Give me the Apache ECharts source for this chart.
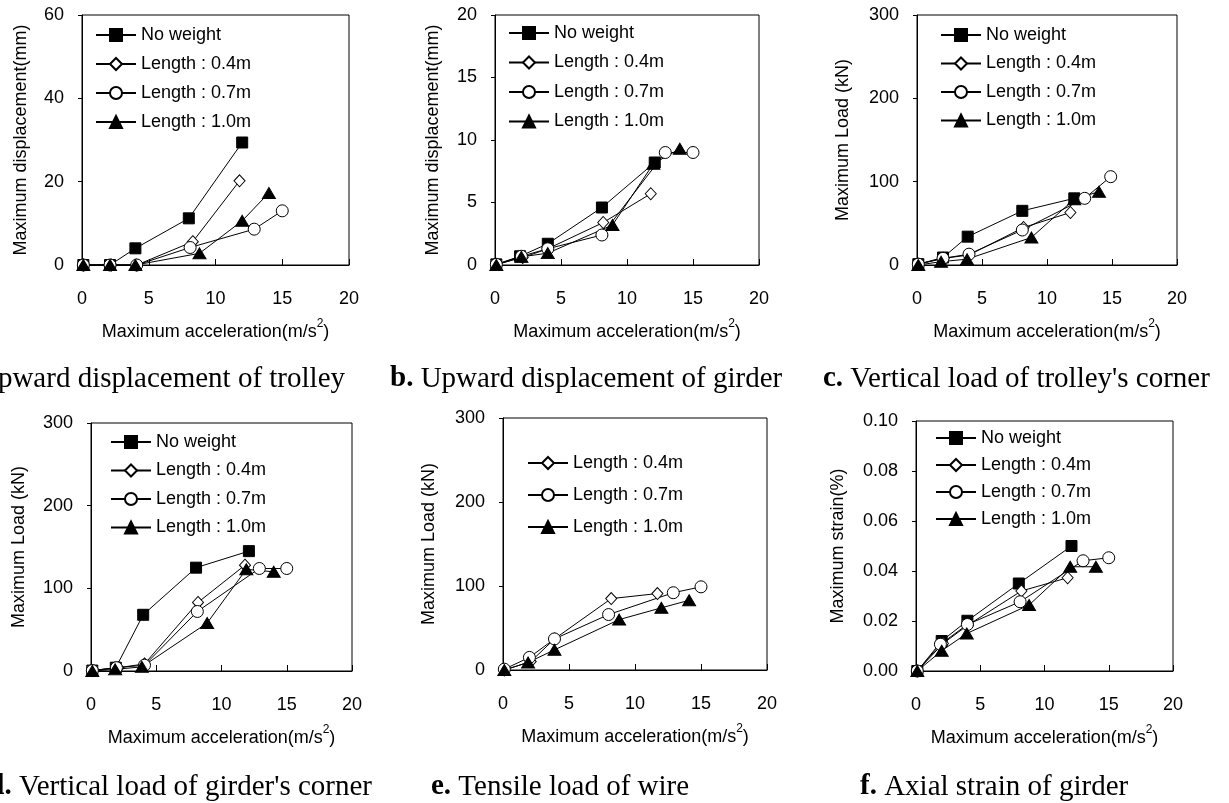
<!DOCTYPE html>
<html>
<head>
<meta charset="utf-8">
<style>
  html, body { margin: 0; padding: 0; background: #fff; }
  #chart { width: 1229px; height: 803px; }
</style>
<script src="https://cdn.jsdelivr.net/npm/echarts@6/dist/echarts.min.js"></script>
</head>
<body>
<div id="chart"></div>
<script>
// legend names, one per test case
const seriesNames = ['No weight', 'Length : 0.4m', 'Length : 0.7m', 'Length : 1.0m'];
const xTicks = [0, 5, 10, 15, 20];

// a. upward displacement of trolley (mm) vs max acceleration (m/s2)
const aNoWeight = [[0.1, 0], [2.1, 0], [4.0, 4.0], [8.0, 11.2], [12.0, 29.4]];
const aLen04 = [[0.1, 0], [2.2, 0], [4.1, 0], [8.3, 5.6], [11.8, 20.2]];
const aLen07 = [[0.1, 0], [2.1, 0], [4.1, 0], [8.1, 4.2], [12.9, 8.6], [15.0, 13.0]];
const aLen10 = [[0.1, 0], [2.1, 0], [4.0, 0], [8.8, 2.8], [12.0, 10.6], [14.0, 17.3]];

// b. upward displacement of girder (mm)
const bNoWeight = [[0.1, 0.05], [1.9, 0.7], [4.0, 1.7], [8.1, 4.6], [12.1, 8.2]];
const bLen04 = [[0.1, 0.05], [2.1, 0.6], [4.0, 1.3], [8.2, 3.4], [11.8, 5.7]];
const bLen07 = [[0.1, 0.05], [2.0, 0.7], [4.0, 1.3], [8.1, 2.4], [12.9, 9.0], [15.0, 9.0]];
const bLen10 = [[0.1, 0], [2.0, 0.65], [4.0, 0.95], [8.9, 3.2], [12.0, 8.1], [14.0, 9.3]];

// c. vertical load of trolley's corner (kN)
const cNoWeight = [[0.1, 1], [2.0, 9], [3.9, 34], [8.1, 65], [12.1, 80]];
const cLen04 = [[0.1, 1], [2.05, 8], [4.0, 12], [8.2, 45], [11.8, 63]];
const cLen07 = [[0.1, 1], [2.0, 8], [4.0, 13], [8.1, 42], [12.9, 80], [14.9, 106]];
const cLen10 = [[0.1, 0], [1.85, 4], [3.85, 7], [8.8, 33], [12.1, 79], [14.0, 88]];

// d. vertical load of girder's corner (kN)
const dNoWeight = [[0.1, 0.5], [1.9, 4], [4.0, 68], [8.05, 125], [12.1, 145]];
const dLen04 = [[0.1, 0.5], [2.1, 4], [4.1, 8.5], [8.2, 83], [11.8, 128]];
const dLen07 = [[0.1, 0.5], [1.95, 4], [4.1, 7], [8.15, 72], [12.9, 124], [15.0, 124]];
const dLen10 = [[0.1, 0], [1.85, 2], [3.9, 5], [8.9, 58], [11.9, 123], [14.0, 120]];

// e. tensile load of wire (kN)
const eLen04 = [[0.1, 0], [2.1, 10], [3.9, 37], [8.2, 85], [11.7, 91]];
const eLen07 = [[0.1, 1], [2.0, 15], [3.9, 37], [8.0, 66], [12.9, 92], [15.0, 99]];
const eLen10 = [[0.1, 0], [1.9, 9], [3.9, 24], [8.8, 60], [12.0, 74], [14.1, 83]];

// f. axial strain of girder (%)
const fNoWeight = [[0.1, 0], [2.0, 0.012], [4.0, 0.0201], [8.0, 0.035], [12.1, 0.050]];
const fLen04 = [[0.1, 0], [2.1, 0.011], [4.05, 0.0184], [8.2, 0.032], [11.8, 0.0373]];
const fLen07 = [[0.1, 0], [1.9, 0.0107], [4.0, 0.0186], [8.1, 0.0277], [13.0, 0.0441], [15.0, 0.0453]];
const fLen10 = [[0.1, 0], [2.0, 0.0081], [3.95, 0.015], [8.8, 0.0264], [12.0, 0.0417], [14.0, 0.0417]];

const SANS = '"Liberation Sans", Arial, sans-serif';
const SERIF = '"Liberation Serif", "Times New Roman", serif';

const markers = [
  { symbol: 'rect', size: 11, fill: '#000' },
  { symbol: 'diamond', size: [11, 12], fill: '#fff' },
  { symbol: 'circle', size: 12, fill: '#fff' },
  { symbol: 'triangle', size: [13, 11], fill: '#000' }
];

const panels = [
  { grid: [82, 15, 267, 250], yMax: 60, yStep: 20, yName: 'Maximum displacement(mm)', yGap: 52,
    legend: [95, 26, 11], series: [aNoWeight, aLen04, aLen07, aLen10] },
  { grid: [495, 15, 264, 250], yMax: 20, yStep: 5, yName: 'Maximum displacement(mm)', yGap: 53,
    legend: [508, 24, 11.5], series: [bNoWeight, bLen04, bLen07, bLen10] },
  { grid: [917, 15, 260, 250], yMax: 300, yStep: 100, yName: 'Maximum Load (kN)', yGap: 65,
    legend: [940, 26, 10.5], series: [cNoWeight, cLen04, cLen07, cLen10] },
  { grid: [91, 423, 261, 248], yMax: 300, yStep: 100, yName: 'Maximum Load (kN)', yGap: 63,
    legend: [110, 433, 10.5], series: [dNoWeight, dLen04, dLen07, dLen10] },
  { grid: [503, 418, 264, 252], yMax: 300, yStep: 100, yName: 'Maximum Load (kN)', yGap: 65,
    legend: [527, 454, 14], series: [null, eLen04, eLen07, eLen10] },
  { grid: [916, 421, 257, 250], yMax: 0.1, yStep: 0.02, yName: 'Maximum strain(%)', yGap: 69, digits: 2,
    legend: [935, 429, 9], series: [fNoWeight, fLen04, fLen07, fLen10] }
];

const captions = [
  { label: 'a.', text: 'Upward displacement of trolley', x: 345, y: 379, align: 'right' },
  { label: 'b.', text: 'Upward displacement of girder', x: 390, y: 379, align: 'left' },
  { label: 'c.', text: "Vertical load of trolley's corner", x: 823, y: 379, align: 'left' },
  { label: 'd.', text: "Vertical load of girder's corner", x: 372, y: 787, align: 'right' },
  { label: 'e.', text: 'Tensile load of wire', x: 431, y: 787, align: 'left' },
  { label: 'f.', text: 'Axial strain of girder', x: 860, y: 787, align: 'left' }
];

const grid = [], xAxis = [], yAxis = [], legend = [], series = [];

panels.forEach((p, i) => {
  grid.push({
    left: p.grid[0], top: p.grid[1], width: p.grid[2], height: p.grid[3],
    show: true, borderColor: '#000', borderWidth: 1, backgroundColor: 'transparent'
  });
  xAxis.push({
    gridIndex: i, type: 'value', min: xTicks[0], max: xTicks[xTicks.length - 1], interval: 5,
    name: 'Maximum acceleration(m/s{sup|2})', nameLocation: 'middle', nameGap: 53,
    nameTextStyle: {
      color: '#000', fontSize: 18, fontFamily: SANS, lineHeight: 28,
      rich: { sup: { fontSize: 12, fontFamily: SANS, color: '#000', lineHeight: 12, verticalAlign: 'top' } }
    },
    axisLine: { lineStyle: { color: '#000', width: 1 } },
    axisTick: { inside: true, length: 6, lineStyle: { color: '#000' } },
    axisLabel: { color: '#000', fontSize: 18, fontFamily: SANS, margin: 25 },
    splitLine: { show: false }
  });
  yAxis.push({
    gridIndex: i, type: 'value', min: 0, max: p.yMax, interval: p.yStep,
    name: p.yName, nameLocation: 'middle', nameGap: p.yGap,
    nameTextStyle: { color: '#000', fontSize: 18, fontFamily: SANS },
    axisLine: { lineStyle: { color: '#000', width: 1 } },
    axisTick: { inside: false, length: 4, lineStyle: { color: '#000' } },
    axisLabel: {
      color: '#000', fontSize: 18, fontFamily: SANS, margin: 18,
      formatter: v => p.digits ? v.toFixed(p.digits) : String(v)
    },
    splitLine: { show: false }
  });
  const names = [];
  p.series.forEach((data, k) => {
    if (!data) return;
    const m = markers[k];
    names.push(seriesNames[k]);
    series.push({
      name: seriesNames[k], type: 'line', xAxisIndex: i, yAxisIndex: i,
      data: data, symbol: m.symbol, symbolSize: m.size, showAllSymbol: true,
      lineStyle: { color: '#000', width: 1 },
      itemStyle: { color: m.fill, borderColor: '#000', borderWidth: 1 },
      emphasis: { disabled: true },
      animation: false
    });
  });
  legend.push({
    data: names, orient: 'vertical', left: p.legend[0], top: p.legend[1], itemGap: p.legend[2],
    itemWidth: 40, itemHeight: 15, padding: 0, selectedMode: false,
    textStyle: { color: '#000', fontSize: 18, fontFamily: SANS }
  });
});

const graphic = captions.map(c => ({
  type: 'text', x: c.x, y: c.y,
  style: {
    text: '{b|' + c.label + '} ' + c.text,
    fontSize: 29, fontFamily: SERIF, fill: '#000',
    align: c.align, verticalAlign: 'middle',
    rich: { b: { fontSize: 29, fontFamily: SERIF, fontWeight: 'bold' } }
  }
}));

const chart = echarts.init(document.getElementById('chart'));
chart.setOption({
  backgroundColor: '#fff',
  animation: false,
  grid, xAxis, yAxis, legend, series, graphic
});
</script>
</body>
</html>
